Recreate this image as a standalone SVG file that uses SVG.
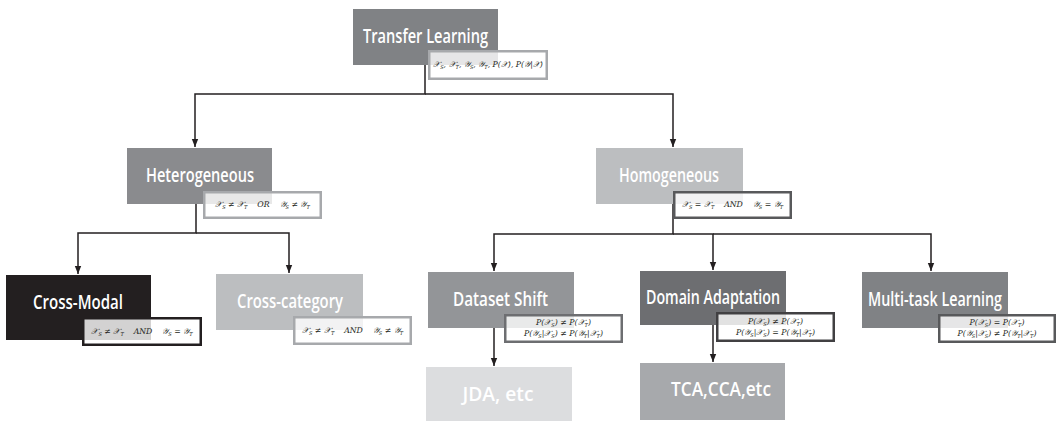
<svg xmlns="http://www.w3.org/2000/svg" width="1058" height="421" viewBox="0 0 1058 421">
  <defs>
    <marker id="arrow" viewBox="0 0 8 8" refX="8" refY="4" markerWidth="8" markerHeight="8" markerUnits="userSpaceOnUse" orient="auto">
      <path d="M0,0.8 L8,4 L0,7.2 Z" fill="#231f20"/>
    </marker>
    <style>
      .title { font-family: "Open Sans", "Lato", sans-serif; font-weight: 600; font-size: 19px; fill: #ffffff; text-anchor: middle; }
      .note { fill: #ffffff; fill-opacity: 0.8; stroke-width: 2.5; }
      .m { font-family: "DejaVu Serif", "Liberation Serif", serif; font-style: italic; font-size: 7.8px; fill: #231f20; text-anchor: middle; white-space: pre; }
      .s { font-size: 5px; baseline-shift: -1.8px; }
      .link { fill: none; stroke: #231f20; stroke-width: 1.5; }
    </style>
  </defs>

  <!-- connectors -->
  <g id="connectors">
    <path class="link" d="M425,65 V94 H195 V147" marker-end="url(#arrow)"/>
    <path class="link" d="M425,94 H673 V147" marker-end="url(#arrow)"/>
    <path class="link" d="M196,204 V233 H78 V274" marker-end="url(#arrow)"/>
    <path class="link" d="M196,233 H289 V273" marker-end="url(#arrow)"/>
    <path class="link" d="M673,204 V234 H494 V271" marker-end="url(#arrow)"/>
    <path class="link" d="M673,234 H713 V270" marker-end="url(#arrow)"/>
    <path class="link" d="M713,234 H931 V271" marker-end="url(#arrow)"/>
    <path class="link" d="M494,328 V366" marker-end="url(#arrow)"/>
    <path class="link" d="M713,325 V362" marker-end="url(#arrow)"/>
  </g>

  <!-- root -->
  <g id="transfer-learning">
    <rect x="353" y="9" width="145" height="56" fill="#808285"/>
    <text class="title" x="425.5" y="43" textLength="125" lengthAdjust="spacingAndGlyphs">Transfer Learning</text>
    <rect class="note" x="429.25" y="51.25" width="117.5" height="27.5" stroke="#a7a9ac"/>
    <text class="m" x="488" y="67" xml:space="preserve">𝒳<tspan class="s">S</tspan>, 𝒳<tspan class="s">T</tspan>, 𝒴<tspan class="s">S</tspan>, 𝒴<tspan class="s">T</tspan>, P(𝒳), P(𝒴|𝒳)</text>
  </g>

  <g id="heterogeneous">
    <rect x="127" y="148" width="145" height="56" fill="#8a8b8e"/>
    <text class="title" x="200" y="182" textLength="108" lengthAdjust="spacingAndGlyphs">Heterogeneous</text>
    <rect class="note" x="204.25" y="192.25" width="116.5" height="25.5" stroke="#a7a9ac"/>
    <text class="m" x="262.5" y="207" xml:space="preserve">𝒳<tspan class="s">S</tspan> ≠ 𝒳<tspan class="s">T</tspan>    OR    𝒴<tspan class="s">S</tspan> ≠ 𝒴<tspan class="s">T</tspan></text>
  </g>

  <g id="homogeneous">
    <rect x="596" y="148" width="147" height="56" fill="#bcbec0"/>
    <text class="title" x="669" y="182" textLength="100" lengthAdjust="spacingAndGlyphs">Homogeneous</text>
    <rect class="note" x="674.25" y="192.25" width="116.5" height="25.5" stroke="#58595b"/>
    <text class="m" x="732.5" y="207" xml:space="preserve">𝒳<tspan class="s">S</tspan> = 𝒳<tspan class="s">T</tspan>    AND    𝒴<tspan class="s">S</tspan> = 𝒴<tspan class="s">T</tspan></text>
  </g>

  <g id="cross-modal">
    <rect x="6" y="275" width="145" height="65" fill="#231f20"/>
    <text class="title" x="78" y="309" textLength="90" lengthAdjust="spacingAndGlyphs">Cross-Modal</text>
    <rect class="note" x="83.25" y="318.25" width="117.5" height="26.5" stroke="#231f20"/>
    <text class="m" x="142" y="334" xml:space="preserve">𝒳<tspan class="s">S</tspan> ≠ 𝒳<tspan class="s">T</tspan>    AND    𝒴<tspan class="s">S</tspan> = 𝒴<tspan class="s">T</tspan></text>
  </g>

  <g id="cross-category">
    <rect x="216" y="274" width="147" height="56" fill="#bcbec0"/>
    <text class="title" x="290" y="308" textLength="106" lengthAdjust="spacingAndGlyphs">Cross-category</text>
    <rect class="note" x="294.25" y="317.25" width="116.5" height="26.5" stroke="#a7a9ac"/>
    <text class="m" x="352.5" y="333" xml:space="preserve">𝒳<tspan class="s">S</tspan> ≠ 𝒳<tspan class="s">T</tspan>    AND    𝒴<tspan class="s">S</tspan> ≠ 𝒴<tspan class="s">T</tspan></text>
  </g>

  <g id="dataset-shift">
    <rect x="428" y="272" width="146" height="56" fill="#939598"/>
    <text class="title" x="500.5" y="306" textLength="95" lengthAdjust="spacingAndGlyphs">Dataset Shift</text>
    <rect class="note" x="505.25" y="315.25" width="116.5" height="26.5" stroke="#6d6e71"/>
    <text class="m" x="563.5" y="325" xml:space="preserve">P(𝒳<tspan class="s">S</tspan>) ≠ P(𝒳<tspan class="s">T</tspan>)</text>
    <text class="m" x="563.5" y="336" xml:space="preserve">P(𝒴<tspan class="s">S</tspan>|𝒳<tspan class="s">S</tspan>) ≠ P(𝒴<tspan class="s">T</tspan>|𝒳<tspan class="s">T</tspan>)</text>
  </g>

  <g id="domain-adaptation">
    <rect x="640" y="271" width="146" height="54" fill="#6d6e71"/>
    <text class="title" x="713" y="304" textLength="134" lengthAdjust="spacingAndGlyphs">Domain Adaptation</text>
    <rect class="note" x="717.25" y="313.25" width="116.5" height="27.5" stroke="#414042"/>
    <text class="m" x="775.5" y="324" xml:space="preserve">P(𝒳<tspan class="s">S</tspan>) ≠ P(𝒳<tspan class="s">T</tspan>)</text>
    <text class="m" x="775.5" y="335" xml:space="preserve">P(𝒴<tspan class="s">S</tspan>|𝒳<tspan class="s">S</tspan>) = P(𝒴<tspan class="s">T</tspan>|𝒳<tspan class="s">T</tspan>)</text>
  </g>

  <g id="multi-task-learning">
    <rect x="862" y="272" width="146" height="56" fill="#808285"/>
    <text class="title" x="935" y="306" textLength="134" lengthAdjust="spacingAndGlyphs">Multi-task Learning</text>
    <rect class="note" x="939.25" y="315.25" width="115.5" height="26.5" stroke="#58595b"/>
    <text class="m" x="997" y="325" xml:space="preserve">P(𝒳<tspan class="s">S</tspan>) = P(𝒳<tspan class="s">T</tspan>)</text>
    <text class="m" x="997" y="336" xml:space="preserve">P(𝒴<tspan class="s">S</tspan>|𝒳<tspan class="s">S</tspan>) ≠ P(𝒴<tspan class="s">T</tspan>|𝒳<tspan class="s">T</tspan>)</text>
  </g>

  <g id="jda">
    <rect x="426" y="367" width="146" height="56" fill="#dcdddf"/>
    <text class="title" x="498" y="401" textLength="71" lengthAdjust="spacingAndGlyphs">JDA, etc</text>
  </g>

  <g id="tca-cca">
    <rect x="640" y="363" width="145" height="57" fill="#a7a9ac"/>
    <text class="title" x="721" y="396" textLength="100" lengthAdjust="spacingAndGlyphs">TCA,CCA,etc</text>
  </g>
</svg>
